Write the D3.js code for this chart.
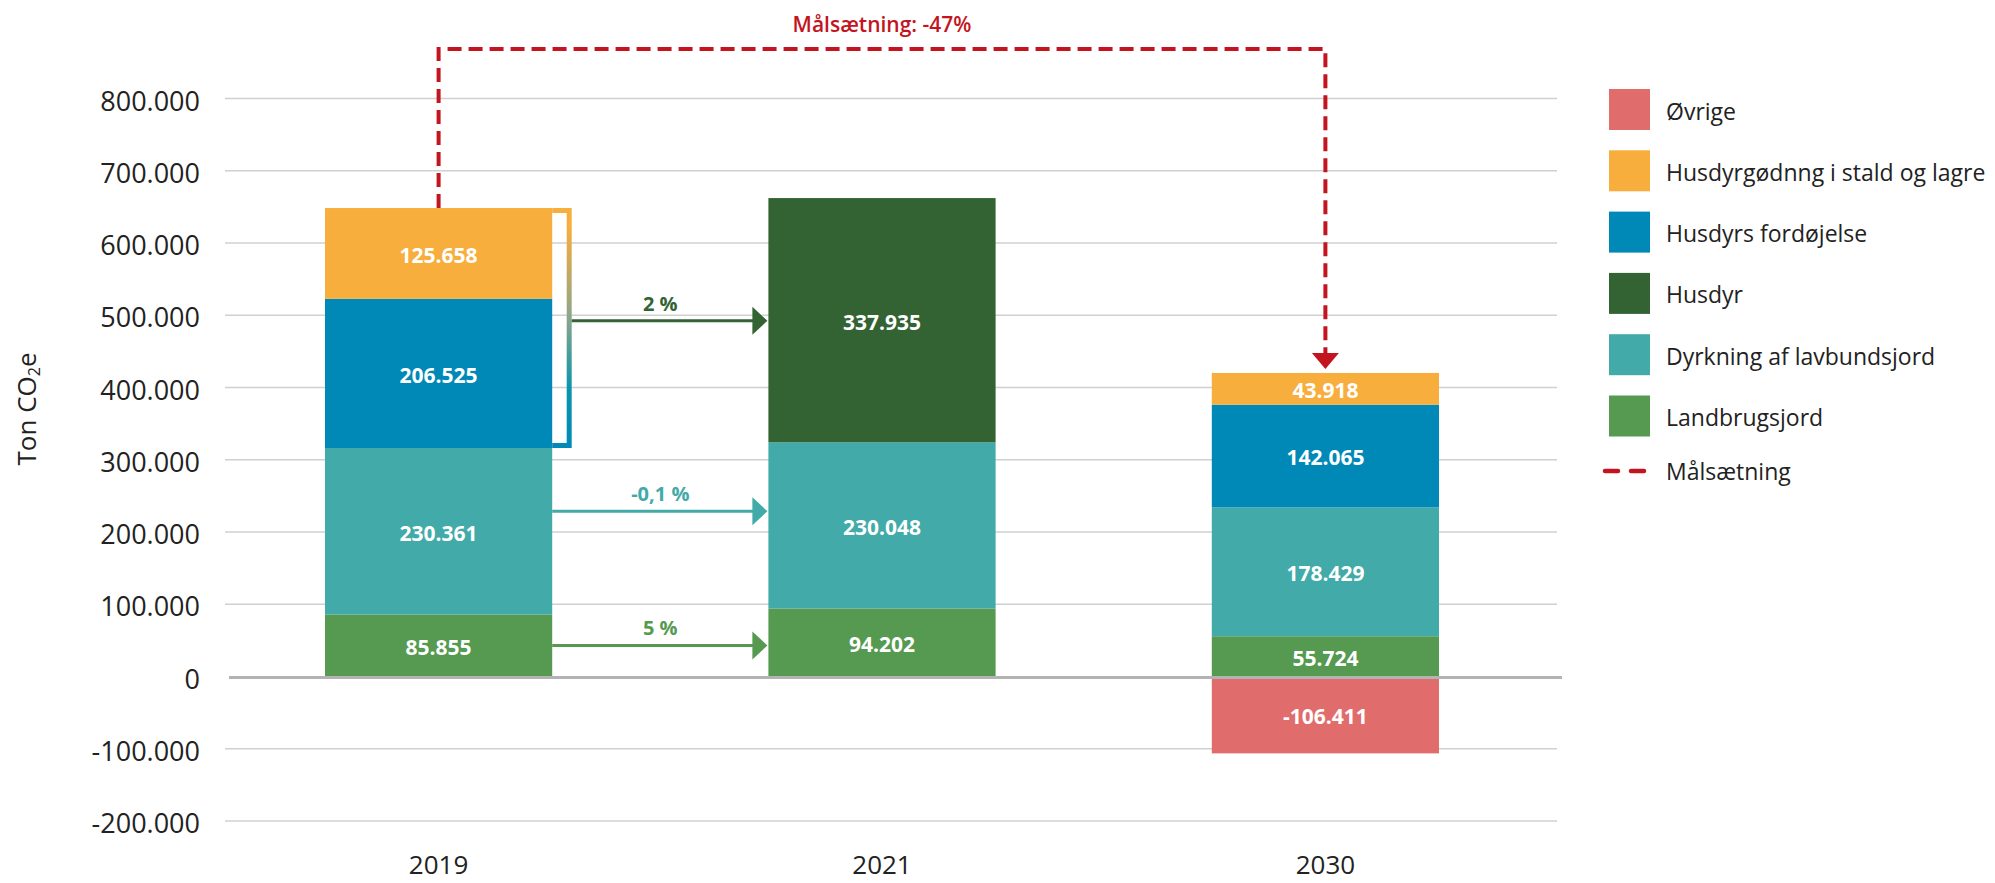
<!DOCTYPE html>
<html>
<head>
<meta charset="utf-8">
<script src="https://cdn.jsdelivr.net/npm/d3@7"></script>
<style>
  body { margin: 0; background: #fff; }
  text { font-family: "Open Sans", sans-serif; }
</style>
</head>
<body>
<div id="chart"></div>
<script>
// data
var years = ["2019", "2021", "2030"];
var landbrugsjord = [85855, 94202, 55724];
var dyrkning = [230361, 230048, 178429];
var husdyr = [0, 337935, 0];
var fordojelse = [206525, 0, 142065];
var husdyrgodning = [125658, 0, 43918];
var ovrige = [0, 0, -106411];

var seriesNames = ["Landbrugsjord", "Dyrkning af lavbundsjord", "Husdyr",
  "Husdyrs fordøjelse", "Husdyrgødnng i stald og lagre", "Øvrige"];
var seriesColors = ["#559a50", "#42aaa8", "#336333", "#0089b7", "#f7ae3c", "#e06d6c"];
var yTicks = [-200000, -100000, 0, 100000, 200000, 300000, 400000, 500000, 600000, 700000, 800000];
var changeLabels = ["5 %", "-0,1 %", "2 %"];
var targetLabel = "Målsætning: -47%";
var targetLegend = "Målsætning";
var targetColor = "#c3151f";

var svgWidth = 1995;
var svgHeight = 883;

var svg = d3.select("#chart")
  .append("svg")
  .attr("width", svgWidth)
  .attr("height", svgHeight);

var da = d3.formatLocale({decimal: ",", thousands: ".", grouping: [3], currency: ["", " kr."], minus: "-"});
var fmt = da.format(",d");

// table for the stack
var table = years.map(function(yr, i) {
  return {
    year: yr,
    "Landbrugsjord": landbrugsjord[i],
    "Dyrkning af lavbundsjord": dyrkning[i],
    "Husdyr": husdyr[i],
    "Husdyrs fordøjelse": fordojelse[i],
    "Husdyrgødnng i stald og lagre": husdyrgodning[i],
    "Øvrige": ovrige[i]
  };
});

var stacked = d3.stack()
  .keys(seriesNames)
  .offset(d3.stackOffsetDiverging)(table);

// scales
var x = d3.scaleBand()
  .domain(years)
  .range([325, 1439])
  .paddingInner(0.4876)
  .paddingOuter(0);

var y = d3.scaleLinear()
  .domain([-200000, 800000])
  .range([821, 98.5]);

var color = d3.scaleOrdinal().domain(seriesNames).range(seriesColors);

var gridLeft = 225, gridRight = 1557;

// gridlines
svg.append("g")
  .selectAll("line")
  .data(yTicks.filter(function(t) { return t !== 0; }))
  .enter()
  .append("line")
  .attr("x1", gridLeft)
  .attr("x2", gridRight)
  .attr("y1", function(d) { return y(d); })
  .attr("y2", function(d) { return y(d); })
  .attr("stroke", "#d0d0d0")
  .attr("stroke-width", 1.6);

// y axis labels
var leftAxis = d3.axisLeft(y)
  .tickValues(yTicks)
  .tickSize(0)
  .tickPadding(0)
  .tickFormat(fmt);

var yAxisG = svg.append("g")
  .attr("transform", "translate(200,3)")
  .call(leftAxis);
yAxisG.select(".domain").remove();
yAxisG.selectAll("text")
  .style("font-family", "'Open Sans', sans-serif")
  .style("font-size", "27px")
  .attr("fill", "#222");

// y title
var yTitle = svg.append("text")
  .attr("transform", "translate(36,409) rotate(-90)")
  .attr("text-anchor", "middle")
  .style("font-size", "26px")
  .attr("fill", "#222");
yTitle.append("tspan").text("Ton CO");
yTitle.append("tspan").text("2").style("font-size", "16px").attr("dy", 4);
yTitle.append("tspan").text("e").attr("dy", -4);

// x axis labels
var bottomAxis = d3.axisBottom(x).tickSize(0).tickPadding(0);
var xAxisG = svg.append("g")
  .attr("transform", "translate(0,856)")
  .call(bottomAxis);
xAxisG.select(".domain").remove();
xAxisG.selectAll("text")
  .style("font-family", "'Open Sans', sans-serif")
  .style("font-size", "26px")
  .attr("fill", "#222");

// bars
var layers = svg.append("g")
  .selectAll("g")
  .data(stacked)
  .enter()
  .append("g")
  .attr("fill", function(d) { return color(d.key); });

layers.selectAll("rect")
  .data(function(d) { return d; })
  .enter()
  .append("rect")
  .attr("x", function(d) { return x(d.data.year); })
  .attr("width", x.bandwidth())
  .attr("y", function(d) { return y(Math.max(d[0], d[1])); })
  .attr("height", function(d) { return Math.abs(y(d[0]) - y(d[1])); });

// value labels
layers.each(function(layer) {
  d3.select(this).selectAll("text")
    .data(layer.filter(function(d) { return d[1] !== d[0]; }))
    .enter()
    .append("text")
    .attr("x", function(d) { return x(d.data.year) + x.bandwidth() / 2; })
    .attr("y", function(d) { return (y(d[0]) + y(d[1])) / 2 + 2; })
    .attr("dy", "0.35em")
    .attr("text-anchor", "middle")
    .attr("fill", "#fff")
    .style("font-size", "21px")
    .style("font-weight", "700")
    .text(function(d) { return fmt(d.data[layer.key]); });
});

// zero line on top
svg.append("line")
  .attr("x1", 229)
  .attr("x2", 1562)
  .attr("y1", y(0) + 1)
  .attr("y2", y(0) + 1)
  .attr("stroke", "#b3b3b3")
  .attr("stroke-width", 3);

// bracket around husdyr parts of 2019
var defs = svg.append("defs");
var b2019 = table[0];
var bracketTop = y(b2019["Landbrugsjord"] + b2019["Dyrkning af lavbundsjord"] + b2019["Husdyrs fordøjelse"] + b2019["Husdyrgødnng i stald og lagre"]);
var bracketBottom = y(b2019["Landbrugsjord"] + b2019["Dyrkning af lavbundsjord"]);
var grad = defs.append("linearGradient")
  .attr("id", "bracketGrad")
  .attr("gradientUnits", "userSpaceOnUse")
  .attr("x1", 0).attr("x2", 0)
  .attr("y1", bracketTop).attr("y2", bracketBottom);
grad.append("stop").attr("offset", 0.08).attr("stop-color", color("Husdyrgødnng i stald og lagre"));
grad.append("stop").attr("offset", 0.45).attr("stop-color", "#8fa58a");
grad.append("stop").attr("offset", 0.75).attr("stop-color", "#0a95ad");
grad.append("stop").attr("offset", 1).attr("stop-color", color("Husdyrs fordøjelse"));

var barRight = x("2019") + x.bandwidth();
var bracketX = barRight + 17;
svg.append("path")
  .attr("d", "M" + barRight + "," + (bracketTop + 2.5) + "H" + bracketX + "V" + (bracketBottom - 2.5) + "H" + barRight)
  .attr("fill", "none")
  .attr("stroke", "url(#bracketGrad)")
  .attr("stroke-width", 5);

// change arrows 2019 -> 2021
var nextLeft = x("2021");
var arrows = [
  {label: changeLabels[0], lo: 0, hi: b2019["Landbrugsjord"], at: 0.5, start: barRight, col: color("Landbrugsjord")},
  {label: changeLabels[1], lo: b2019["Landbrugsjord"], hi: b2019["Landbrugsjord"] + b2019["Dyrkning af lavbundsjord"], at: 0.62, start: barRight, col: color("Dyrkning af lavbundsjord")},
  {label: changeLabels[2], lo: b2019["Landbrugsjord"] + b2019["Dyrkning af lavbundsjord"], hi: b2019["Landbrugsjord"] + b2019["Dyrkning af lavbundsjord"] + b2019["Husdyrs fordøjelse"] + b2019["Husdyrgødnng i stald og lagre"], at: 0.53, start: bracketX + 2.5, col: color("Husdyr")}
];

var arrowG = svg.append("g")
  .selectAll("g")
  .data(arrows)
  .enter()
  .append("g");

arrowG.append("line")
  .attr("x1", function(d) { return d.start; })
  .attr("x2", nextLeft - 15)
  .attr("y1", function(d) { return y(d.lo + (d.hi - d.lo) * d.at); })
  .attr("y2", function(d) { return y(d.lo + (d.hi - d.lo) * d.at); })
  .attr("stroke", function(d) { return d.col; })
  .attr("stroke-width", 3);

arrowG.append("path")
  .attr("d", function(d) {
    var ay = y(d.lo + (d.hi - d.lo) * d.at);
    return "M" + (nextLeft - 16) + "," + (ay - 14) + "L" + (nextLeft - 1) + "," + ay + "L" + (nextLeft - 16) + "," + (ay + 14) + "Z";
  })
  .attr("fill", function(d) { return d.col; });

arrowG.append("text")
  .attr("x", (barRight + nextLeft) / 2)
  .attr("y", function(d) { return y(d.lo + (d.hi - d.lo) * d.at) - 10; })
  .attr("text-anchor", "middle")
  .attr("fill", function(d) { return d.col; })
  .style("font-size", "20px")
  .style("font-weight", "700")
  .text(function(d) { return d.label; });

// target line 2019 -> 2030
var top2019 = d3.max(stacked, function(s) { return s[0][1]; });
var top2030 = d3.max(stacked, function(s) { return s[2][1]; });
var cx2019 = x("2019") + x.bandwidth() / 2;
var cx2030 = x("2030") + x.bandwidth() / 2;
var lineY = 49;
var tipY = y(top2030) - 4;

svg.append("path")
  .attr("d", "M" + cx2019 + "," + y(top2019) + "V" + lineY + "H" + cx2030 + "V" + (tipY - 14))
  .attr("fill", "none")
  .attr("stroke", targetColor)
  .attr("stroke-width", 4)
  .attr("stroke-dasharray", "14,7");

svg.append("path")
  .attr("d", "M" + (cx2030 - 13.5) + "," + (tipY - 16) + "L" + cx2030 + "," + tipY + "L" + (cx2030 + 13.5) + "," + (tipY - 16) + "Z")
  .attr("fill", targetColor);

svg.append("text")
  .attr("x", x("2021") + x.bandwidth() / 2)
  .attr("y", 32)
  .attr("text-anchor", "middle")
  .attr("fill", targetColor)
  .style("font-size", "21px")
  .style("font-weight", "600")
  .text(targetLabel);

// legend
var legendNames = seriesNames.slice().reverse();
var legend = svg.append("g").attr("transform", "translate(1609,89)");
var items = legend.selectAll("g")
  .data(legendNames)
  .enter()
  .append("g")
  .attr("transform", function(d, i) { return "translate(0," + (i * 61.3) + ")"; });

items.append("rect")
  .attr("width", 41)
  .attr("height", 41)
  .attr("fill", function(d) { return color(d); });

items.append("text")
  .attr("x", 57)
  .attr("y", 22.5)
  .attr("dy", "0.35em")
  .attr("fill", "#222")
  .style("font-size", "23px")
  .text(function(d) { return d; });

var tgt = legend.append("g").attr("transform", "translate(0,382)");
tgt.append("line")
  .attr("x1", -4)
  .attr("x2", 38)
  .attr("stroke", targetColor)
  .attr("stroke-width", 4.5)
  .attr("stroke-linecap", "round")
  .attr("stroke-dasharray", "13,13");
tgt.append("text")
  .attr("x", 57)
  .attr("y", 1)
  .attr("dy", "0.35em")
  .attr("fill", "#222")
  .style("font-size", "23px")
  .text(targetLegend);
</script>
</body>
</html>
